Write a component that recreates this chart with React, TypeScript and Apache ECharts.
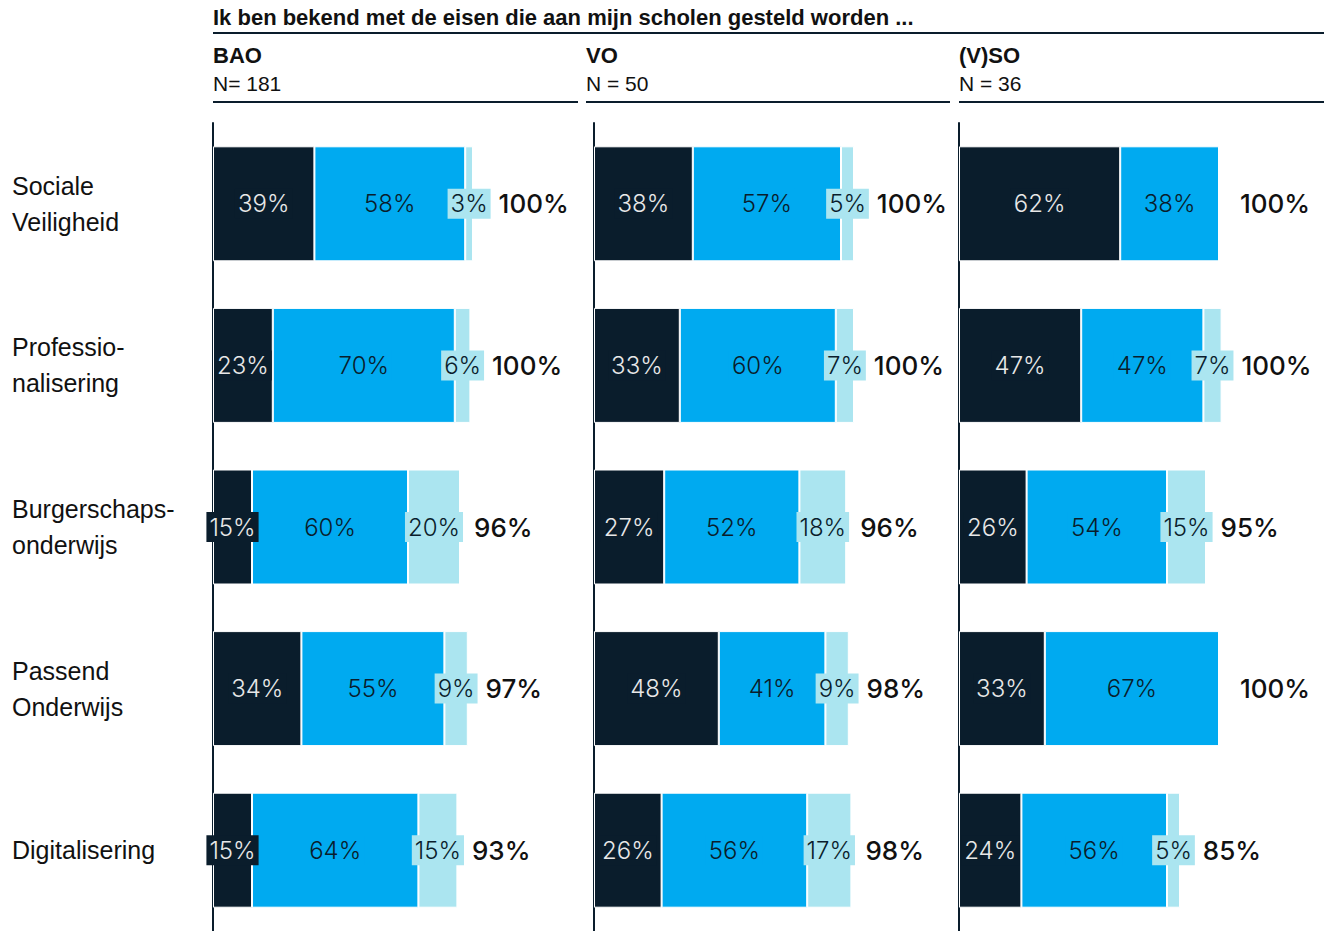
import React, { useEffect, useRef } from "react";
import * as echarts from "echarts";

const categories = ["Sociale\nVeiligheid", "Professio-\nnalisering", "Burgerschaps-\nonderwijs", "Passend\nOnderwijs", "Digitalisering"];
const panelNames = ["BAO", "VO", "(V)SO"];
const panelN = ["N= 181", "N = 50", "N = 36"];
const title = "Ik ben bekend met de eisen die aan mijn scholen gesteld worden ...";

const baoDark = [39, 23, 15, 34, 15];
const baoBlue = [58, 70, 60, 55, 64];
const baoLight = [3, 6, 20, 9, 15];
const baoTotal = ["100%", "100%", "96%", "97%", "93%"];

const voDark = [38, 33, 27, 48, 26];
const voBlue = [57, 60, 52, 41, 56];
const voLight = [5, 7, 18, 9, 17];
const voTotal = ["100%", "100%", "96%", "98%", "98%"];

const vsoDark = [62, 47, 26, 33, 24];
const vsoBlue = [38, 47, 54, 67, 56];
const vsoLight = [0, 7, 15, 0, 5];
const vsoTotal = ["100%", "100%", "95%", "100%", "85%"];

const panels = [
  { dark: baoDark, blue: baoBlue, light: baoLight, total: baoTotal },
  { dark: voDark, blue: voBlue, light: voLight, total: voTotal },
  { dark: vsoDark, blue: vsoBlue, light: vsoLight, total: vsoTotal },
];

const DARK = "#0a1d2c";
const BLUE = "#00aaf0";
const LIGHT = "#abe5f0";
const SANS = "'Liberation Sans', Arial, Helvetica, sans-serif";
const LABEL_FONT = "Inter, 'Liberation Sans', sans-serif";
const LABEL_SIZE = 24;
const PX_PER_UNIT = 2.6;
const AXIS_MAX = 110;

function measure(text: string, font: string): number {
  const c = document.createElement("canvas").getContext("2d");
  if (!c) return text.length * 14;
  c.font = font;
  return c.measureText(text).width;
}

export default function App() {
  const ref = useRef<HTMLDivElement>(null);
  useEffect(() => {
    if (!ref.current) return;
    const chart = echarts.init(ref.current, null, { renderer: "svg" });
    const lefts = [213, 594, 959];
    const grids = lefts.map((l) => ({ left: l, top: 123, width: AXIS_MAX * PX_PER_UNIT, height: 809 }));
    const xAxes = lefts.map((_, i) => ({ type: "value", gridIndex: i, min: 0, max: AXIS_MAX, show: false }));
    const yAxes = lefts.map((_, i) => ({
      type: "category",
      gridIndex: i,
      data: categories,
      inverse: true,
      axisLine: { show: true, lineStyle: { color: DARK, width: 2 } },
      axisTick: { show: false },
      splitLine: { show: false },
      axisLabel: {
        show: i === 0,
        align: "left",
        margin: 201,
        fontFamily: SANS,
        fontSize: 25,
        lineHeight: 36,
        color: "#111",
      },
    }));
    const series: any[] = [];
    const segDefs = [
      { key: "dark", color: DARK, text: "#e8e8e8" },
      { key: "blue", color: BLUE, text: DARK },
      { key: "light", color: LIGHT, text: DARK },
    ];
    const labelFontStr = `300 ${LABEL_SIZE}px ${LABEL_FONT}`;
    panels.forEach((p: any, pi) => {
      segDefs.forEach((s) => {
        series.push({
          type: "bar",
          xAxisIndex: pi,
          yAxisIndex: pi,
          stack: "s" + pi,
          barWidth: 115,
          itemStyle: { color: s.color, borderColor: "#fff", borderWidth: 1 },
          label: {
            show: true,
            position: "inside",
            formatter: "{c}%",
            color: s.text,
            backgroundColor: s.color,
            padding: [3, 3],
            fontFamily: LABEL_FONT,
            fontWeight: 300,
            fontSize: LABEL_SIZE,
          },
          data: (p[s.key] as number[]).map((v) => ({ value: v, label: { show: v > 0 } })),
        });
      });
      // total labels: placed after the bar end, or after the light label box if that sticks out
      const distances = p.total.map((_: string, i: number) => {
        const sum = p.dark[i] + p.blue[i] + p.light[i];
        const barEnd = sum * PX_PER_UNIT;
        let d = p.light[i] > 0 ? 14 : 21;
        if (p.light[i] > 0) {
          const center = (sum - p.light[i] / 2) * PX_PER_UNIT;
          const boxRight = center + measure(p.light[i] + "%", labelFontStr) / 2 + 3;
          d = Math.max(d, boxRight + 8 - barEnd);
        }
        return d;
      });
      series.push({
        type: "bar",
        xAxisIndex: pi,
        yAxisIndex: pi,
        stack: "s" + pi,
        barWidth: 115,
        itemStyle: { color: "transparent" },
        label: {
          show: true,
          position: "right",
          color: "#111",
          fontFamily: LABEL_FONT,
          fontWeight: 500,
          fontSize: 26,
          formatter: (d: any) => p.total[d.dataIndex],
        },
        data: p.total.map((_: string, i: number) => ({ value: 0, label: { distance: distances[i] } })),
      });
    });
    const headerLines = [
      [213, 578],
      [586, 950],
      [959, 1324],
    ];
    const graphic: any[] = [
      { type: "text", left: 213, top: 6, style: { text: title, font: `bold 22px ${SANS}`, fill: "#111" } },
      { type: "line", shape: { x1: 213, y1: 33, x2: 1324, y2: 33 }, style: { stroke: DARK, lineWidth: 2 } },
    ];
    headerLines.forEach(([a, b], i) => {
      graphic.push({ type: "text", left: a, top: 44, style: { text: panelNames[i], font: `bold 22px ${SANS}`, fill: "#111" } });
      graphic.push({ type: "text", left: a, top: 73, style: { text: panelN[i], font: `21px ${SANS}`, fill: "#111" } });
      graphic.push({ type: "line", shape: { x1: a, y1: 102, x2: b, y2: 102 }, style: { stroke: DARK, lineWidth: 2 } });
    });
    chart.setOption({
      animation: false,
      grid: grids,
      xAxis: xAxes,
      yAxis: yAxes,
      series,
      graphic,
    });
    return () => chart.dispose();
  }, []);
  return <div ref={ref} style={{ position: "absolute", left: 0, top: 0, width: 1330, height: 931, background: "#fff" }} />;
}
